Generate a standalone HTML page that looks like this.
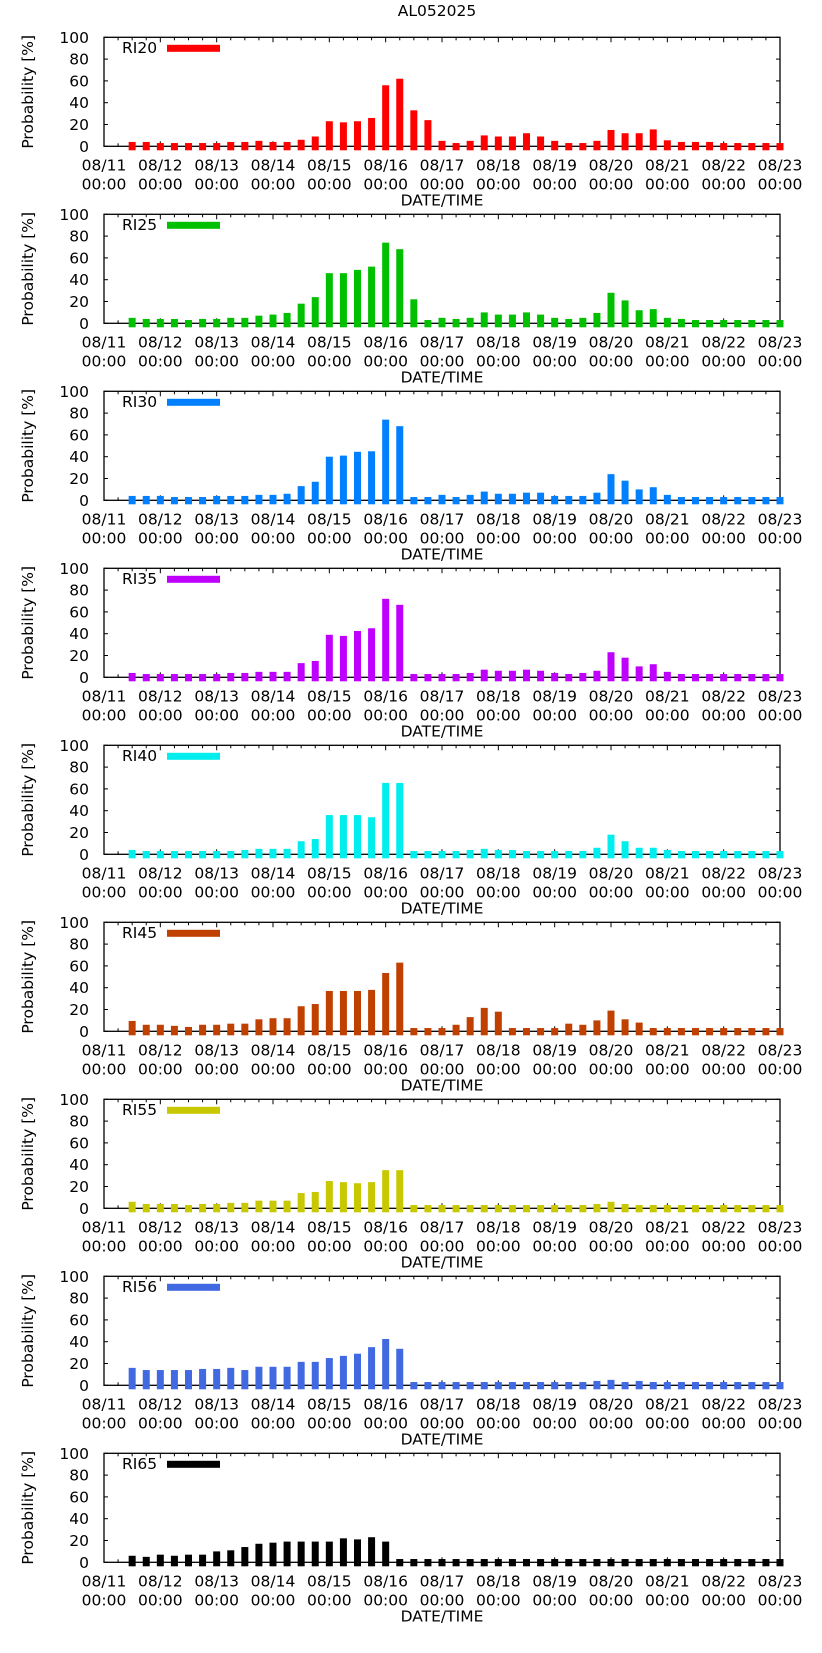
<!DOCTYPE html>
<html><head><meta charset="utf-8">
<style>
html,body{margin:0;padding:0;background:#fff;}
svg{display:block;}
text{font-family:"DejaVu Sans","Liberation Sans",sans-serif;font-size:15.5px;fill:#000;}
</style></head>
<body>
<svg id="chart" width="822" height="1653" viewBox="0 0 822 1653" xmlns="http://www.w3.org/2000/svg">
<text x="437" y="16" text-anchor="middle">AL052025</text>
</svg>
<script>
const seriesNames = ["RI20","RI25","RI30","RI35","RI40","RI45","RI55","RI56","RI65"];
const seriesColors = ["#ff0000","#00c000","#0080ff","#c000ff","#00eeee","#c04000","#c8c800","#4169e1","#000000"];
const dayLabels = ["08/11","08/12","08/13","08/14","08/15","08/16","08/17","08/18","08/19","08/20","08/21","08/22","08/23"];
const yTicks = [0,20,40,60,80,100];
const ri20 = [4,4,3,3,3,3,3,4,4,5,4,4,6,9,23,22,23,26,56,62,33,24,5,3,5,10,9,9,12,9,5,3,3,5,15,12,12,15.5,5.5,4,4,4,3,3,3,3,3];
const ri25 = [5,4,4,4,3,4,4,5,5,7,8,9.5,18,24,46,46,49,52,74,68,22,3,5,4,5,10,8,8,10,8,5,4,5,9.5,28,21,12,13,5,4,3,3,3,3,3,3,3];
const ri30 = [4,4,4,3,3,3,4,4,4,5,5,6,13,17,40,41,44.5,45,74,68,3,3,5,3,5,8,6,6,7,7,4,4,4,7,24,18,10,12,5,3,3,3,3,3,3,3,3];
const ri35 = [4,3,3,3,3,3,3,4,4,5,5,5,13,15,39,38,42.5,45,72,66.5,3,3,3,3,4,7,6,6,7,6,4,3,4,6,23,18,10,12,5,3,3,3,3,3,3,3,3];
const ri40 = [4,3,3,3,3,3,3,3,4,5,5,5,12,14,36,36,36,34,65.5,65.5,3,3,3,3,4,5,4,4,3,3,3,3,3,6,18,12,6,6,4,3,3,3,3,3,3,3,3];
const ri45 = [9.5,6,6,5,4,6,6,7,7,11,12,12,23,25,37,37,37,38,53.5,63,3,3,3,6,13,21.5,18,3,3,3,3,7,6,10,19,11,8,3,3,3,3,3,3,3,3,3,3];
const ri55 = [6,4,4,4,3,4,4,5,5,7,7,7,14,15,25,24,23,24,35,35,3,3,3,3,3,3,3,3,3,3,3,3,3,4,6,4,3,3,3,3,3,3,3,3,3,3,3];
const ri56 = [16,14,14,14,14,15,15,16,14,17,17,17,21.5,21.5,25,27,29,35,42.5,33.5,3,3,3,3,3,3,3,3,3,3,3,3,3,4,5,3,4,3,3,3,3,3,3,3,3,3,3];
const ri65 = [6,5,7,6,7,7,10,11,14,17,18,19,19,19,19,22,21,23,19,3,3,3,3,3,3,3,3,3,3,3,3,3,3,3,3,3,3,3,3,3,3,3,3,3,3,3,3];
const allSeries = [ri20,ri25,ri30,ri35,ri40,ri45,ri55,ri56,ri65];
const firstBarSlot = 2; // first bar at 08/11 12:00 (6-hour slots)

const NS="http://www.w3.org/2000/svg";
const svg=document.getElementById('chart');
const X0=104, X1=780, SLOTS=48;
function xScale(slot){return X0+(X1-X0)*slot/SLOTS;}
function mk(tag,attrs,parent){const e=document.createElementNS(NS,tag);for(const k in attrs)e.setAttribute(k,attrs[k]);(parent||svg).appendChild(e);return e;}

allSeries.forEach((vals,p)=>{
  const top=37.3+177*p, zero=146.3+177*p;
  const yScale=v=>zero-(zero-top)*v/100;
  const g=mk('g',{});
  
  
  // y ticks & labels
  yTicks.forEach(t=>{
    const y=yScale(t);
    const tx=mk('text',{x:89,y:y+5.5,'text-anchor':'end'},g);
    tx.textContent=t;
    
    
    const l1=mk('line',{x1:X0,x2:X0+4,y1:y,y2:y,stroke:'#000','stroke-width':1},g);
    
    
    const l2=mk('line',{x1:X1-4,x2:X1,y1:y,y2:y,stroke:'#000','stroke-width':1},g);
    
    
  });
  // x ticks
  for(let s=0;s<=SLOTS;s++){
    const x=xScale(s), len=(s%4===0)?5:3;
    const t1=mk('line',{x1:x,x2:x,y1:top,y2:top+len,stroke:'#000','stroke-width':1},g);
    
    
    const t2=mk('line',{x1:x,x2:x,y1:zero,y2:zero-len,stroke:'#000','stroke-width':1},g);
    
    
  }
  dayLabels.forEach((d,i)=>{
    const x=xScale(i*4);
    const a=mk('text',{x:x,y:zero+24,'text-anchor':'middle'},g);
    a.textContent=d;
    
    
    const b=mk('text',{x:x,y:zero+43,'text-anchor':'middle'},g);
    b.textContent='00:00';
    
    
  });
  const xt=mk('text',{x:442,y:zero+59,'text-anchor':'middle'},g);
  xt.textContent='DATE/TIME';
  
  
  const yt=mk('text',{x:0,y:0,'text-anchor':'middle',transform:`translate(33,${(top+zero)/2}) rotate(-90)`},g);
  yt.textContent='Probability [%]';
  
  
  // frame
  const fr=mk('rect',{x:X0,y:top,width:X1-X0,height:zero-top,fill:'none',stroke:'#000','stroke-width':1.3},g);
  
  
  // bars
  vals.forEach((v,i)=>{
    const x=xScale(firstBarSlot+i);
    const yTop=yScale(v);
    const r=mk('rect',{x:x-3.5,y:yTop,width:7,height:(zero+4)-yTop,fill:seriesColors[p]},g);
    
    
  });
  // legend
  const lt=mk('text',{x:122,y:top+15.5},g);
  lt.textContent=seriesNames[p];
  
  
  const ls=mk('rect',{x:167,y:top+7.5,width:53,height:7,fill:seriesColors[p]},g);
  
  
});
</script>
</body></html>
